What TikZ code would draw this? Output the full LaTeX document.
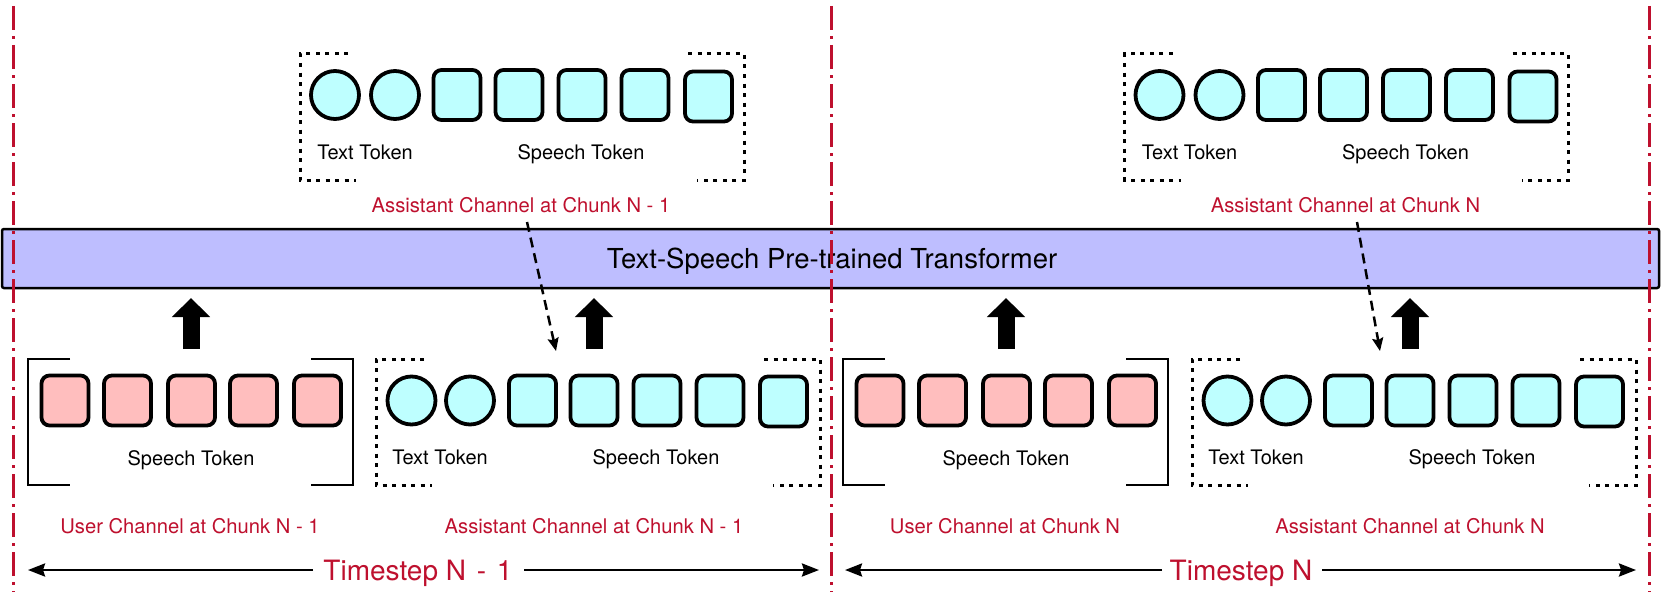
\documentclass[tikz,border=0pt]{standalone}
\usepackage{fontspec}
\setmainfont{TeX Gyre Heros}
\usetikzlibrary{arrows.meta}
\definecolor{tokcyan}{RGB}{190,255,255}
\definecolor{tokpink}{RGB}{255,190,190}
\definecolor{tfblue}{RGB}{190,190,255}
\definecolor{chred}{RGB}{190,16,46}
\tikzset{
  sq/.style={draw, line width=3.8pt, rounded corners=8pt, minimum width=47pt, minimum height=50pt, inner sep=0pt},
  cq/.style={sq, fill=tokcyan},
  pq/.style={sq, fill=tokpink},
  cc/.style={draw, circle, line width=3.8pt, minimum size=48pt, inner sep=0pt, fill=tokcyan},
  lab/.style={font=\fontsize{20}{23}\selectfont, anchor=base, inner sep=0pt},
  redlab/.style={font=\fontsize{20.2}{23}\selectfont, anchor=base, inner sep=0pt, text=chred},
  dotb/.style={line width=3pt, dash pattern=on 4pt off 5.5pt},
  solb/.style={line width=2.5pt},
  redline/.style={chred, line width=3pt, dash pattern=on 24pt off 6pt on 3pt off 6pt},
  blockup/.style={line width=17pt, -{Triangle[width=37pt,length=19pt]}},
  dasharrow/.style={line width=2.5pt, dash pattern=on 10pt off 6pt, -{Stealth[width=11pt,length=13pt,inset=2pt]}},
  tsarrow/.style={line width=2.5pt, -{Stealth[width=13pt,length=17pt,inset=2pt]}},
  tslab/.style={font=\fontsize{28}{31}\selectfont, text=chred, anchor=base, inner sep=0pt},
  tfbox/.style={draw, fill=tfblue, line width=2.5pt, rounded corners=2pt, minimum width=1657pt, minimum height=59pt, inner sep=0pt}
}
\begin{document}
\begin{tikzpicture}[x=1pt,y=-1pt]
\useasboundingbox (0,0) rectangle (1661,594);

% transformer
\node[tfbox] (tf) at (830.5,258.5) {};
\node[font=\fontsize{27.5}{30}\selectfont, anchor=base, inner sep=0pt] (tftext) at (832,268) {Text-Speech Pre-trained Transformer};

% top assistant groups
\foreach \ox/\g/\lbl in {0/a/{Assistant Channel at Chunk N - 1}, 824.5/b/{Assistant Channel at Chunk N}}{
  \begin{scope}[xshift=\ox]
    \node[cc] (tc1\g) at (335,95) {};
    \node[cc] (tc2\g) at (395,95) {};
    \node[cq] (ts1\g) at (457,95) {};
    \node[cq] (ts2\g) at (519,95) {};
    \node[cq] (ts3\g) at (582,95) {};
    \node[cq] (ts4\g) at (645,95) {};
    \node[cq] (ts5\g) at (708.5,96.5) {};
    \node[lab] (ttt\g) at (365,159) {Text Token};
    \node[lab] (tst\g) at (581,159) {Speech Token};
    \node[redlab] (tred\g) at (521,212) {\lbl};
    \draw[dotb] (348,54) -- (300,54) -- (300,180) -- (356,180);
    \draw[dotb] (688,54) -- (744,54) -- (744,180) -- (697,180);
  \end{scope}
}

% bottom user groups
\foreach \ox/\g/\lbl in {0/a/{User Channel at Chunk N - 1}, 815/b/{User Channel at Chunk N}}{
  \begin{scope}[xshift=\ox]
    \node[pq] (us1\g) at (65,400.5) {};
    \node[pq] (us2\g) at (127.5,400.5) {};
    \node[pq] (us3\g) at (191.5,400.5) {};
    \node[pq] (us4\g) at (253.5,400.5) {};
    \node[pq] (us5\g) at (317.5,400.5) {};
    \node[lab] (ust\g) at (191,465) {Speech Token};
    \node[redlab] (ured\g) at (190,533) {\lbl};
    \draw[solb] (70,359) -- (28,359) -- (28,485) -- (70,485);
    \draw[solb] (311,359) -- (353,359) -- (353,485) -- (311,485);
    \coordinate (uup\g) at (191,349);
    \coordinate (uupt\g) at (191,298);
  \end{scope}
}

% bottom assistant groups
\foreach \ox/\g/\lbl in {0/a/{Assistant Channel at Chunk N - 1}, 816/b/{Assistant Channel at Chunk N}}{
  \begin{scope}[xshift=\ox]
    \node[cc] (bc1\g) at (411.5,400.5) {};
    \node[cc] (bc2\g) at (470,400.5) {};
    \node[cq] (bs1\g) at (532.5,400.5) {};
    \node[cq] (bs2\g) at (594,400.5) {};
    \node[cq] (bs3\g) at (657,400.5) {};
    \node[cq] (bs4\g) at (720,400.5) {};
    \node[cq] (bs5\g) at (783.5,401.5) {};
    \node[lab] (btt\g) at (440,464) {Text Token};
    \node[lab] (bst\g) at (656,464) {Speech Token};
    \node[redlab] (bred\g) at (594,533) {\lbl};
    \draw[dotb] (424,359) -- (376,359) -- (376,485) -- (432,485);
    \draw[dotb] (764,359) -- (820,359) -- (820,485) -- (773,485);
    \coordinate (aup\g) at (594,349);
    \coordinate (aupt\g) at (594,298);
  \end{scope}
}

% block arrows into transformer
\foreach \g in {a,b}{
  \draw[blockup] (uup\g) -- (uupt\g);
  \draw[blockup] (aup\g) -- (aupt\g);
}

% dashed arrows
\coordinate (da1s) at (527,222);
\coordinate (da1e) at (556,351);
\coordinate (da2s) at (1357,222);
\coordinate (da2e) at (1380,351);
\draw[dasharrow] (da1s) -- (da1e);
\draw[dasharrow] (da2s) -- (da2e);

% timesteps
\node[tslab] (ts1) at (418,580) {Timestep N\hspace{3pt} - \hspace{3pt}1};
\node[tslab] (ts2) at (1241,580) {Timestep N};
\coordinate (ts1l) at (28,570);
\coordinate (ts1la) at (313,570);
\coordinate (ts1ra) at (524,570);
\coordinate (ts1r) at (819,570);
\coordinate (ts2l) at (845,570);
\coordinate (ts2la) at (1162,570);
\coordinate (ts2ra) at (1322,570);
\coordinate (ts2r) at (1636,570);
\draw[tsarrow] (ts1la) -- (ts1l);
\draw[tsarrow] (ts1ra) -- (ts1r);
\draw[tsarrow] (ts2la) -- (ts2l);
\draw[tsarrow] (ts2ra) -- (ts2r);

% red separators
\coordinate (r1t) at (13,6);   \coordinate (r1b) at (13,592);
\coordinate (r2t) at (831,6);  \coordinate (r2b) at (831,592);
\coordinate (r3t) at (1649,6); \coordinate (r3b) at (1649,592);
\draw[redline] (r1t) -- (r1b);
\draw[redline] (r2t) -- (r2b);
\draw[redline] (r3t) -- (r3b);
\end{tikzpicture}
\end{document}
